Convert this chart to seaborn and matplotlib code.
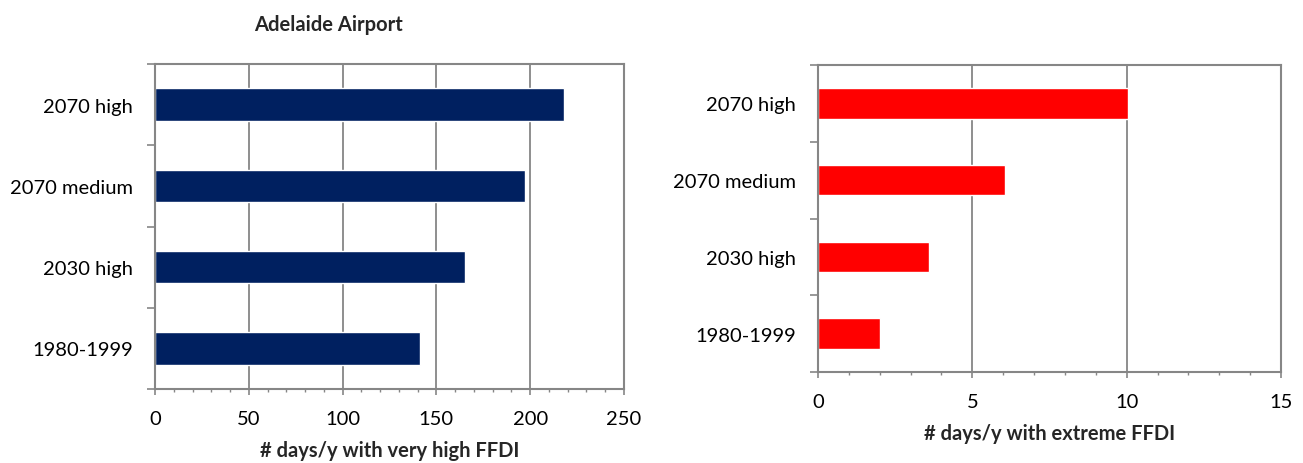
import matplotlib
matplotlib.use("Agg")
import matplotlib.pyplot as plt
from matplotlib.ticker import MultipleLocator, FixedLocator
import seaborn as sns
import pandas as pd

sns.set_theme(style="white")
plt.rcParams["font.family"] = ["Lato", "DejaVu Sans"]

# Adelaide Airport fire-danger days per year
scenarios = ["2070 high", "2070 medium", "2030 high", "1980-1999"]
very_high_days = [218, 197, 165, 141]
extreme_days = [10.05, 6.05, 3.6, 2.0]

W, H = 1303, 464
fig = plt.figure(figsize=(W / 100, H / 100), dpi=100)

GRID = "#868686"
FS = 14.5


def px_axes(left, top, right, bottom):
    return fig.add_axes([left / W, (H - bottom) / H, (right - left) / W, (bottom - top) / H])


def style(ax, xmax, major, minor, xlabel):
    ax.set_xlim(0, xmax)
    ax.set_ylim(len(scenarios) - 0.5, -0.5)
    ax.xaxis.set_major_locator(MultipleLocator(major))
    ax.xaxis.set_minor_locator(MultipleLocator(minor))
    ax.grid(axis="x", which="major", color=GRID, linewidth=1.3)
    ax.set_axisbelow(True)
    # category boundaries carry the tick marks, labels sit at the centres
    ax.yaxis.set_major_locator(FixedLocator([i - 0.5 for i in range(len(scenarios) + 1)]))
    ax.yaxis.set_minor_locator(FixedLocator(range(len(scenarios))))
    ax.yaxis.set_major_formatter(plt.NullFormatter())
    ax.yaxis.set_minor_formatter(plt.FixedFormatter(scenarios))
    ax.tick_params(axis="y", which="major", direction="out", length=5.5, width=1.2, color=GRID, left=True)
    ax.tick_params(axis="y", which="minor", length=0, pad=16, labelsize=FS, labelcolor="black")
    ax.tick_params(axis="x", which="major", direction="out", length=4.5, width=1.2, color=GRID,
                   bottom=True, labelsize=FS, pad=10.5, labelcolor="black")
    ax.tick_params(axis="x", which="minor", direction="out", length=2.5, width=1.0, color=GRID, bottom=True)
    for s in ax.spines.values():
        s.set_color(GRID)
        s.set_linewidth(1.5)
    ax.set_ylabel("")
    ax.set_xlabel(xlabel, fontsize=FS, fontweight="bold", labelpad=9.5)


df_left = pd.DataFrame({"scenario": scenarios, "days": very_high_days})
ax1 = px_axes(155, 65, 624, 390)
sns.barplot(data=df_left, y="scenario", x="days", order=scenarios, orient="h",
            color="#002060", saturation=1, width=0.4, ax=ax1)
style(ax1, 250, 50, 10, "# days/y with very high FFDI")

df_right = pd.DataFrame({"scenario": scenarios, "days": extreme_days})
ax2 = px_axes(818, 66, 1281, 373)
sns.barplot(data=df_right, y="scenario", x="days", order=scenarios, orient="h",
            color="#FF0000", saturation=1, width=0.4, ax=ax2)
style(ax2, 15, 5, 1, "# days/y with extreme FFDI")

fig.text(328 / W, 1 - 25 / H, "Adelaide Airport", ha="center", va="center",
         fontsize=FS, fontweight="bold")

fig.savefig("out.png", dpi=100, facecolor="white")
